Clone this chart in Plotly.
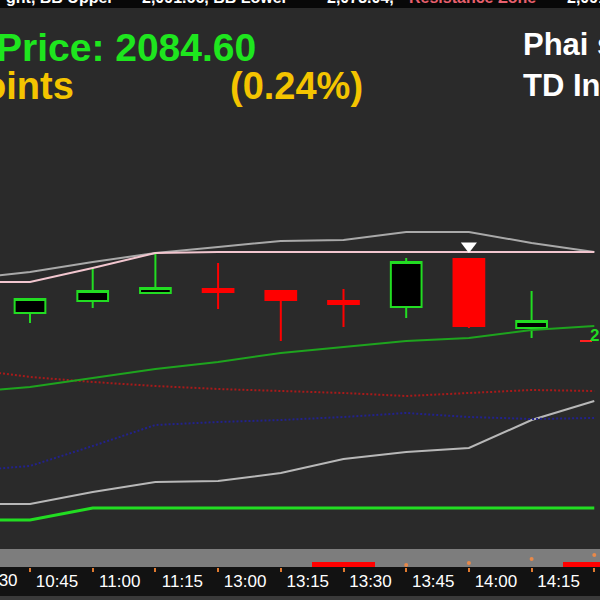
import plotly.graph_objects as go

# ---------------- data ----------------
times = ["10:30", "10:45", "11:00", "11:15", "13:00", "13:15", "13:30",
         "13:45", "14:00", "14:15", "14:30"]

# candles 10:45 .. 14:15
opens  = [2085.4, 2086.6, 2087.4, 2087.8, 2087.6, 2086.6, 2086.0, 2090.8, 2083.9]
highs  = [2086.9, 2089.9, 2091.5, 2090.4, 2087.6, 2087.8, 2090.9, 2090.8, 2087.6]
lows   = [2084.4, 2085.9, 2087.3, 2085.8, 2082.6, 2084.0, 2084.9, 2083.9, 2082.9]
closes = [2086.8, 2087.6, 2087.9, 2087.5, 2086.7, 2086.3, 2090.5, 2084.1, 2084.6]

# indicator lines 10:30 .. 14:30
resistance = [2088.5, 2088.5, 2089.9, 2091.4, 2091.5, 2091.5, 2091.5, 2091.5, 2091.5, 2091.5, 2091.5]
bb_upper   = [2088.8, 2089.5, 2090.5, 2091.4, 2092.0, 2092.6, 2092.7, 2093.5, 2093.5, 2092.4, 2091.5]
ma_line    = [2077.5, 2078.0, 2078.9, 2079.8, 2080.5, 2081.4, 2082.0, 2082.6, 2082.9, 2083.7, 2084.1]
red_dotted = [2079.8, 2079.0, 2078.5, 2078.1, 2077.8, 2077.6, 2077.4, 2077.1, 2077.4, 2077.7, 2077.6]
blue_dotted= [2069.6, 2070.1, 2072.1, 2074.2, 2074.5, 2074.7, 2075.0, 2075.4, 2075.0, 2074.8, 2074.9]
bb_lower   = [2066.3, 2066.3, 2067.5, 2068.5, 2068.6, 2069.4, 2070.8, 2071.5, 2071.9, 2074.7, 2076.6]
support    = [2064.7, 2064.7, 2065.9, 2065.9, 2065.9, 2065.9, 2065.9, 2065.9, 2065.9, 2065.9, 2065.9]

signal_time = "14:00"
signal_price = 2092.1

# lower strip indicator
strip_signal = [0, 0, 0, 0, 0, 0, 5, 0, 0, 0, 5]
strip_dots_x = ["13:45", "14:00", "14:15", "14:30"]
strip_dots_v = [2, 4, 8, 12]

last_price = "2084.60"

# ---------------- figure ----------------
pos = {t: i for i, t in enumerate(times)}
xs = list(range(len(times)))
cx = [pos[t] for t in times[1:10]]

fig = go.Figure()

def line(y, color, width, dash="solid"):
    fig.add_trace(go.Scatter(x=xs, y=y, mode="lines", hoverinfo="skip",
                             line=dict(color=color, width=width, dash=dash)))

line(support, "#22dd22", 3)
line(bb_lower, "#b8b8b8", 2)
line(blue_dotted, "#22228c", 2, "2px,2px")
line(red_dotted, "#a81a1a", 2, "2px,2px")
line(ma_line, "#1ea41e", 2)
line(bb_upper, "#a9a9a9", 2)
line(resistance, "#f2c6cf", 2)

fig.add_trace(go.Candlestick(
    x=cx, open=opens, high=highs, low=lows, close=closes,
    increasing=dict(fillcolor="#000000", line=dict(color="#22dd22", width=2)),
    decreasing=dict(fillcolor="#ff0000", line=dict(color="#ff0000", width=2)),
    whiskerwidth=0, hoverinfo="skip"))

fig.add_trace(go.Scatter(x=[pos[signal_time]], y=[signal_price], mode="markers",
                         marker=dict(symbol="triangle-down", size=14, color="white")))

fig.add_trace(go.Bar(x=xs, y=strip_signal, yaxis="y2", width=1.0,
                     marker=dict(color="#ff0000", line=dict(width=0))))
fig.add_trace(go.Scatter(x=[pos[t] for t in strip_dots_x], y=strip_dots_v, yaxis="y2",
                         mode="markers", marker=dict(color="#e8894a", size=4)))

shapes = [
    dict(type="rect", xref="paper", yref="paper", x0=0, x1=1, y0=0.055, y1=0.085,
         fillcolor="#7d7d7d", line=dict(width=0), layer="below"),
    dict(type="rect", xref="paper", yref="paper", x0=0, x1=1, y0=0.0067, y1=0.055,
         fillcolor="#121212", line=dict(width=0), layer="below"),
    dict(type="rect", xref="paper", yref="paper", x0=0, x1=1, y0=0, y1=0.0067,
         fillcolor="#3a3a3a", line=dict(width=0), layer="below"),
    dict(type="rect", xref="paper", yref="paper", x0=0, x1=1, y0=1 - 8 / 600, y1=1,
         fillcolor="#080808", line=dict(width=0), layer="below"),
    dict(type="line", xref="paper", yref="paper", x0=580 / 600, x1=592 / 600,
         y0=1 - 341 / 600, y1=1 - 341 / 600, line=dict(color="#ff2020", width=2)),
]

F = "Liberation Sans"
def ann(text, x, y, size, color, xanchor="left", bold=True, yanchor="middle"):
    return dict(text=("<b>%s</b>" % text) if bold else text, x=x / 600, y=1 - y / 600,
                xref="paper", yref="paper", xanchor=xanchor, yanchor=yanchor,
                showarrow=False, font=dict(family=F, size=size, color=color))

annotations = [
    ann("Price: " + last_price, 258, 47, 39, "#1ee61e", xanchor="right"),
    ann("+5.00 Points", 76, 86, 38, "#f4c400", xanchor="right"),
    ann("(0.24%)", 228, 86, 38, "#f4c400"),
    ann("Phai sinh", 521, 45, 31, "#ffffff"),
    ann("TD Intraday", 521, 86, 31, "#ffffff"),
    ann("ght, BB Upper", 116, -2, 16, "#ffffff", xanchor="right"),
    ann("2,091.66, BB Lower", 140, -2, 16, "#ffffff"),
    ann("2,073.04,", 325, -2, 16, "#ffffff"),
    ann("Resistance Zone", 407, -2, 16, "#e8606e"),
    ann("2,091.50", 565, -2, 16, "#ffffff"),
    ann(last_price, 588, 335, 17, "#22dd22"),
    ann("10:30", -27, 580, 17, "#ffffff", bold=False),
]

fig.update_layout(
    width=600, height=600, margin=dict(l=0, r=0, t=0, b=0),
    paper_bgcolor="#2a2a2a", plot_bgcolor="#2a2a2a", showlegend=False,
    bargap=0,
    xaxis=dict(range=[0.5215, 10.091], tickvals=xs, ticktext=times, anchor="y2",
               ticks="outside", ticklen=4, tickwidth=2, tickcolor="#e07a30",
               showgrid=False, zeroline=False, showline=False,
               tickfont=dict(color="white", size=17, family=F),
               ticklabelshift=27, ticklabelstandoff=-5,
               rangeslider=dict(visible=False)),
    yaxis=dict(domain=[0.085, 0.8167], range=[2061.8, 2105.7], visible=False),
    yaxis2=dict(domain=[0.055, 0.085], range=[0, 18], visible=False),
    shapes=shapes, annotations=annotations,
)

fig.write_html("out.html", config={"displayModeBar": False})

# remove the default page margin so the 600x600 figure fills the window
with open("out.html", "r", encoding="utf-8") as f:
    html = f.read()
html = html.replace("<head>", "<head><style>html,body{margin:0;padding:0;overflow:hidden;background:#2a2a2a}</style>", 1)
with open("out.html", "w", encoding="utf-8") as f:
    f.write(html)
